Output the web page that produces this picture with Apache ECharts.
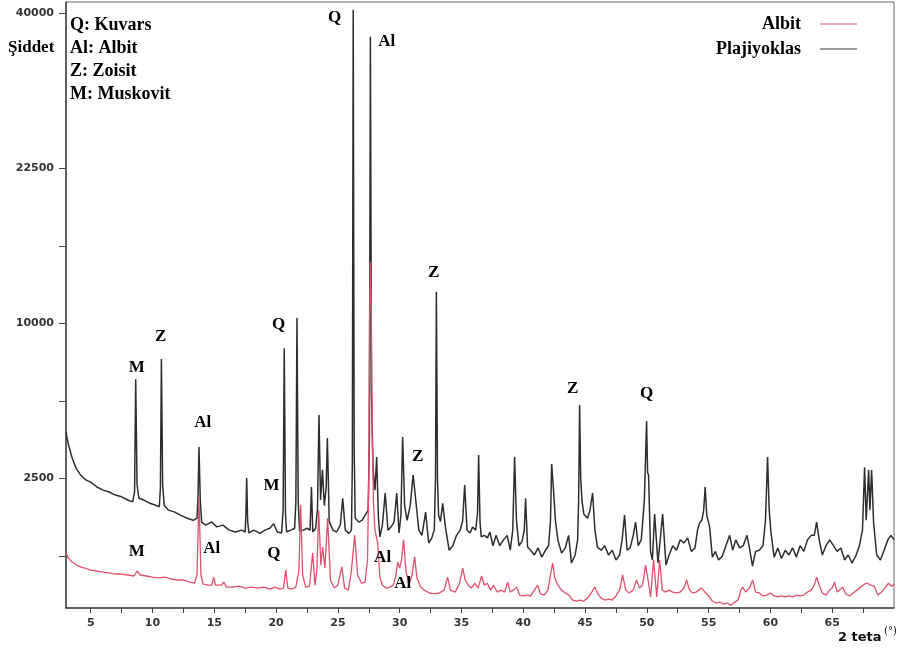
<!DOCTYPE html>
<html>
<head>
<meta charset="utf-8">
<script src="https://cdn.jsdelivr.net/npm/echarts@6/dist/echarts.min.js"></script>
<style>
html,body{margin:0;padding:0;background:#fff;}
#chart{width:902px;height:654px;}
</style>
</head>
<body>
<div id="chart"></div>
<script>
// 2θ (°) , intensity (counts)
const plajiyoklas = [[3.0,4200],[3.2,3700],[3.5,3200],[3.8,2850],[4.2,2600],[4.6,2450],[5.0,2380],[5.5,2230],[6.0,2135],[6.5,2080],[7.0,1990],[7.5,1940],[8.0,1850],[8.4,1800],[8.55,2100],[8.64,6720],[8.75,2300],[8.9,1900],[9.3,1850],[9.8,1760],[10.3,1700],[10.55,1670],[10.64,2200],[10.72,7830],[10.82,2300],[10.95,1700],[11.3,1580],[11.8,1530],[12.3,1450],[12.8,1380],[13.3,1330],[13.6,1380],[13.68,1900],[13.76,3610],[13.86,1900],[13.97,1290],[14.3,1220],[14.8,1290],[15.2,1180],[15.7,1220],[16.2,1110],[16.7,1070],[17.2,1110],[17.5,1070],[17.56,1500],[17.62,2510],[17.7,1300],[17.8,1050],[18.2,1110],[18.7,1040],[19.1,1110],[19.5,1150],[19.8,1250],[20.1,1070],[20.45,1050],[20.57,1600],[20.66,8460],[20.76,1500],[20.85,1070],[21.2,1110],[21.5,1150],[21.6,1800],[21.69,10340],[21.79,1800],[21.9,1090],[22.2,1110],[22.5,1150],[22.75,1110],[22.86,2230],[22.97,1070],[23.2,1150],[23.35,1600],[23.47,4960],[23.6,1850],[23.75,2780],[23.9,1700],[24.05,2200],[24.15,3970],[24.3,1300],[24.6,1110],[24.9,1070],[25.2,1220],[25.39,1900],[25.6,1110],[25.9,1040],[26.1,1110],[26.17,3000],[26.24,40440],[26.32,3500],[26.4,1380],[26.7,1290],[26.95,1330],[27.2,1450],[27.45,1580],[27.55,4000],[27.63,37020],[27.72,6000],[27.85,2780],[28.0,2135],[28.14,3240],[28.28,1400],[28.4,970],[28.6,1220],[28.83,2050],[29.05,1110],[29.3,1180],[29.55,1290],[29.76,2050],[29.95,1050],[30.1,1450],[30.24,4010],[30.4,1700],[30.6,1330],[30.85,1700],[31.09,2610],[31.3,1850],[31.55,1110],[31.8,1000],[32.1,1530],[32.35,850],[32.6,950],[32.8,1110],[32.9,2500],[32.97,12140],[33.06,2500],[33.15,1450],[33.3,1300],[33.48,1760],[33.7,1180],[34.0,720],[34.3,800],[34.6,1000],[34.9,1110],[35.1,1330],[35.26,2290],[35.45,1110],[35.7,1050],[35.9,1180],[36.15,1110],[36.3,1500],[36.39,3310],[36.5,1300],[36.6,970],[36.85,1000],[37.1,950],[37.3,1070],[37.55,800],[37.8,1000],[38.1,800],[38.4,910],[38.7,1000],[38.95,720],[39.15,1110],[39.3,3240],[39.45,1330],[39.65,800],[39.9,880],[40.08,1100],[40.19,1900],[40.35,775],[40.6,720],[40.9,640],[41.2,760],[41.5,605],[41.8,720],[42.05,800],[42.2,1300],[42.3,2980],[42.45,2135],[42.6,1330],[42.8,910],[43.1,670],[43.4,760],[43.67,1000],[43.9,515],[44.2,640],[44.4,910],[44.48,1800],[44.56,5420],[44.65,2500],[44.75,1850],[44.9,1480],[45.2,1380],[45.4,1580],[45.61,2050],[45.8,1110],[46.0,775],[46.3,720],[46.6,800],[46.9,640],[47.2,720],[47.5,560],[47.8,640],[48.0,910],[48.2,1460],[48.4,720],[48.65,760],[48.9,1000],[49.09,1290],[49.3,800],[49.55,910],[49.8,1850],[49.98,4690],[50.06,2700],[50.14,2600],[50.3,700],[50.45,560],[50.63,1480],[50.9,515],[51.28,1480],[51.55,485],[51.8,640],[52.1,800],[52.4,720],[52.7,910],[53.0,850],[53.3,950],[53.6,700],[53.9,760],[54.1,1110],[54.27,1270],[54.45,1330],[54.6,1580],[54.72,2230],[54.85,1450],[55.08,1180],[55.3,605],[55.55,700],[55.8,560],[56.1,620],[56.4,800],[56.7,1000],[56.95,720],[57.2,910],[57.5,760],[57.8,800],[58.1,1000],[58.3,760],[58.55,470],[58.8,700],[59.1,720],[59.4,800],[59.6,1330],[59.77,3240],[59.9,1580],[60.05,1050],[60.3,605],[60.6,760],[60.9,585],[61.2,720],[61.5,640],[61.8,760],[62.1,605],[62.4,800],[62.7,700],[63.0,910],[63.3,1000],[63.55,1000],[63.74,1290],[63.95,910],[64.2,640],[64.5,800],[64.8,910],[65.1,800],[65.4,700],[65.7,760],[66.0,560],[66.3,640],[66.6,515],[66.9,620],[67.2,800],[67.45,1110],[67.62,2870],[67.75,1330],[67.95,2780],[68.05,1580],[68.19,2780],[68.35,1270],[68.6,640],[68.9,560],[69.2,720],[69.5,910],[69.75,1000],[70.0,910]];

const albit = [[3.0,670],[3.2,590],[3.5,530],[4.0,470],[4.5,445],[5.0,417],[5.5,405],[6.0,392],[6.5,380],[7.0,367],[7.5,367],[8.0,355],[8.5,343],[8.75,405],[9.0,355],[9.5,343],[10.0,330],[10.5,320],[11.0,330],[11.5,308],[12.0,297],[12.5,297],[13.0,274],[13.4,262],[13.6,355],[13.76,1940],[13.92,355],[14.1,252],[14.5,242],[14.8,242],[14.95,330],[15.1,242],[15.6,242],[15.76,274],[16.0,223],[16.5,223],[17.0,232],[17.5,214],[18.0,223],[18.5,214],[19.0,223],[19.5,205],[19.9,223],[20.3,205],[20.6,214],[20.78,417],[20.95,214],[21.3,205],[21.6,223],[21.85,417],[21.99,1720],[22.15,355],[22.4,223],[22.7,232],[22.96,670],[23.15,242],[23.3,417],[23.45,1580],[23.62,484],[23.77,775],[23.95,445],[24.17,1380],[24.4,297],[24.7,214],[25.0,242],[25.31,460],[25.55,214],[25.85,195],[26.1,417],[26.36,1005],[26.6,355],[26.92,262],[27.2,274],[27.4,560],[27.5,2500],[27.56,10000],[27.63,14350],[27.7,11000],[27.78,4000],[27.88,1800],[28.0,1110],[28.22,850],[28.4,330],[28.6,242],[28.9,214],[29.2,223],[29.5,242],[29.7,355],[29.84,530],[30.0,445],[30.15,560],[30.32,910],[30.5,417],[30.75,242],[31.0,355],[31.21,612],[31.4,320],[31.7,223],[32.0,195],[32.4,170],[32.8,162],[33.2,170],[33.6,195],[33.88,330],[34.1,195],[34.5,178],[34.85,262],[35.1,445],[35.3,297],[35.55,242],[35.8,214],[36.1,262],[36.35,214],[36.63,343],[36.85,242],[37.1,262],[37.35,195],[37.6,242],[37.9,178],[38.2,195],[38.5,178],[38.74,274],[38.95,178],[39.2,195],[39.47,223],[39.7,153],[40.0,146],[40.3,153],[40.6,146],[40.9,195],[41.17,242],[41.4,162],[41.7,153],[42.0,195],[42.2,355],[42.38,515],[42.55,320],[42.8,242],[43.1,195],[43.4,170],[43.7,153],[44.0,116],[44.3,109],[44.6,116],[44.9,109],[45.2,130],[45.5,170],[45.78,223],[46.0,170],[46.3,130],[46.6,116],[46.9,123],[47.2,116],[47.5,146],[47.8,195],[48.04,355],[48.3,195],[48.55,170],[48.9,195],[49.17,297],[49.4,214],[49.65,242],[49.9,484],[50.1,297],[50.3,138],[50.55,560],[50.8,138],[51.04,560],[51.25,195],[51.5,178],[51.8,195],[52.1,178],[52.4,170],[52.7,178],[53.0,214],[53.22,297],[53.45,195],[53.7,170],[54.0,178],[54.2,195],[54.43,214],[54.7,178],[55.0,146],[55.3,109],[55.6,96],[55.9,102],[56.2,90],[56.5,96],[56.8,83],[57.1,102],[57.4,116],[57.6,195],[57.75,223],[58.0,178],[58.3,214],[58.56,297],[58.8,178],[59.1,170],[59.4,146],[59.7,153],[60.0,170],[60.3,146],[60.6,138],[60.9,146],[61.2,138],[61.5,146],[61.8,138],[62.1,153],[62.4,146],[62.7,153],[63.0,178],[63.3,195],[63.55,242],[63.74,330],[63.95,242],[64.2,170],[64.5,153],[64.8,195],[65.0,214],[65.19,274],[65.4,178],[65.6,195],[65.84,223],[66.1,162],[66.4,146],[66.7,170],[67.0,195],[67.3,223],[67.6,252],[67.85,262],[68.1,242],[68.4,232],[68.7,153],[69.0,178],[69.3,223],[69.55,262],[69.8,232],[70.0,252]];

// phase labels: [2θ, intensity, text]
const peakLabels = [[24.74,39400,'Q'],[28.95,36370,'Al'],[32.75,13570,'Z'],[20.21,9900,'Q'],[10.66,9140,'Z'],[8.72,7330,'M'],[14.06,4600,'Al'],[43.99,6210,'Z'],[49.98,5960,'Q'],[31.46,3240,'Z'],[19.64,2280,'M'],[8.72,700,'M'],[14.79,740,'Al'],[19.81,655,'Q'],[28.62,590,'Al'],[30.24,253,'Al']];

const phaseKey = ['Q: Kuvars','Al: Albit','Z: Zoisit','M: Muskovit'];
const yTickLabels = [2500, 10000, 22500, 40000];
const yMinorTicks = [625, 5625, 15625];
const xTickLabels = [5,10,15,20,25,30,35,40,45,50,55,60,65];
const xMinorTicks = [7.5,12.5,17.5,22.5,27.5,32.5,37.5,42.5,47.5,52.5,57.5,62.5,67.5];

const sq = v => Math.sqrt(v);
const toSqrt = arr => arr.map(p => [p[0], sq(p[1])]);

const chart = echarts.init(document.getElementById('chart'));
const serif = '"Liberation Serif", "Times New Roman", serif';
const sans = '"DejaVu Sans", sans-serif';

chart.setOption({
  animation: false,
  backgroundColor: '#fff',
  grid: {left: 66, right: 8, top: 2, bottom: 46, show: true, borderColor: '#6a6a6a', borderWidth: 1},
  xAxis: {
    type: 'value', min: 3, max: 70,
    axisLine: {show: true, onZero: false, lineStyle: {color: '#444', width: 1.5}},
    axisTick: {show: true, length: 5, lineStyle: {color: '#444'},
      customValues: xTickLabels.concat(xMinorTicks).sort((a,b)=>a-b)},
    axisLabel: {customValues: xTickLabels, margin: 10, color: '#333',
      fontFamily: sans, fontWeight: 'bold', fontSize: 11},
    splitLine: {show: false}
  },
  yAxis: {
    type: 'value', min: 8.2, max: 203.6,
    axisLine: {show: true, onZero: false, lineStyle: {color: '#444', width: 1.5}},
    axisTick: {show: true, length: 7, lineStyle: {color: '#444'},
      customValues: yTickLabels.concat(yMinorTicks).map(sq).sort((a,b)=>a-b)},
    axisLabel: {customValues: yTickLabels.map(sq), margin: 12, color: '#333',
      fontFamily: sans, fontWeight: 'bold', fontSize: 11,
      formatter: v => String(Math.round(v * v))},
    splitLine: {show: false}
  },
  legend: {
    data: [
      {name: 'Albit', icon: 'rect', itemStyle: {color: '#e98aa3'}},
      {name: 'Plajiyoklas', icon: 'rect', itemStyle: {color: '#7a7a7a'}}
    ],
    orient: 'vertical', right: 40, top: 10, align: 'right',
    itemWidth: 37, itemHeight: 1.5, itemGap: 7,
    textStyle: {fontFamily: serif, fontWeight: 'bold', fontSize: 18, color: '#000', padding: [0, 14, 0, 0]}
  },
  series: [
    {name: 'Plajiyoklas', type: 'line', data: toSqrt(plajiyoklas), showSymbol: false, symbol: 'none',
      lineStyle: {color: '#2e2e2e', width: 1.5}, itemStyle: {color: '#2e2e2e'}, z: 2},
    {name: 'Albit', type: 'line', data: toSqrt(albit), showSymbol: false, symbol: 'none',
      lineStyle: {color: '#e0506e', width: 1.3}, itemStyle: {color: '#e0506e'}, z: 3},
    {name: 'labels', type: 'scatter', silent: true, symbolSize: 1,
      itemStyle: {color: 'rgba(0,0,0,0)'}, z: 5,
      data: peakLabels.map(p => ({name: p[2], value: [p[0], sq(p[1])]})),
      label: {show: true, position: 'inside', formatter: '{b}', color: '#000', opacity: 1,
        fontFamily: serif, fontWeight: 'bold', fontSize: 17}}
  ],
  graphic: [
    {type: 'group', left: 70, top: 16, children: phaseKey.map((t, i) => ({
      type: 'text', x: 0, y: i * 23,
      style: {text: t, fontFamily: serif, fontWeight: 'bold', fontSize: 18, fill: '#000'}
    }))},
    {type: 'text', left: 8, top: 39, style: {text: 'Şiddet', fontFamily: serif, fontWeight: 'bold', fontSize: 17, fill: '#000'}},
    {type: 'text', left: 838, top: 631, style: {text: '2 teta', fontFamily: sans, fontWeight: 'bold', fontSize: 13, fill: '#111'}},
    {type: 'text', left: 884, top: 626, style: {text: '(°)', fontFamily: sans, fontSize: 10, fill: '#111'}}
  ]
});
</script>
</body>
</html>
